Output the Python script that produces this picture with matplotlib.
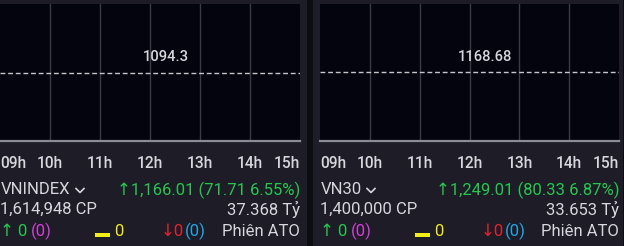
import matplotlib
matplotlib.use('Agg')
import matplotlib.pyplot as plt
from matplotlib.patches import Rectangle
from matplotlib.lines import Line2D

W, H = 624, 246

# data
hours = [9, 10, 11, 12, 13, 14, 15]
hour_labels = ['09h', '10h', '11h', '12h', '13h', '14h', '15h']
index_names = ['VNINDEX', 'VN30']
ref_values = [1094.3, 1168.68]
ref_labels = ['1094.3', '1168.68']
last_values = ['1,166.01', '1,249.01']
changes = ['71.71', '80.33']
pcts = ['6.55%', '6.87%']
volumes = ['1,614,948 CP', '1,400,000 CP']
turnover = ['37.368 Tỷ', '33.653 Tỷ']
up_count = [0, 0]
up_ceil = [0, 0]
flat_count = [0, 0]
down_count = [0, 0]
down_floor = [0, 0]

BG_GAP = '#0c0c13'
CARD = '#1d1c27'
PLOT_BG = '#04040e'
TXT = '#d6d6dc'
GREEN = '#25c84e'
MAGENTA = '#d23fd6'
YELLOW = '#f2ee0e'
RED = '#e3242c'
CYAN = '#23a6e4'

FONT = ['Roboto', 'DejaVu Sans']
ROW = 12.0

fig = plt.figure(figsize=(W / 100, H / 100), dpi=100, facecolor=BG_GAP)


def fx(x):
    return x / W


def fy(y):
    return 1 - y / H


def ftext(x, y, s, color=TXT, ha='left', size=ROW, weight='normal'):
    fig.text(fx(x), fy(y), s, color=color, ha=ha, va='center', fontsize=size,
             family=FONT, fontweight=weight)


# cards: (card left, card right, plot left, plot right)
panels = [(0, 307, 0, 300), (313, 623, 320, 619)]
chev = [80, 51]

for i, (cl, cr, pl, pr) in enumerate(panels):
    fig.add_artist(Rectangle((fx(cl), 0), fx(cr - cl), 1, transform=fig.transFigure,
                             facecolor=CARD, edgecolor='none', zorder=0))

    ax = fig.add_axes([fx(pl), fy(141), fx(pr - pl), (141 - 4) / H])
    ax.set_facecolor(PLOT_BG)
    ax.set_xlim(hours[0], hours[-1])
    ax.set_ylim(ref_values[i] - 10, ref_values[i] + 10)
    for h in hours[1:-1]:
        ax.axvline(h, color='#3b3b45', lw=1.0)
    ax.axhline(ref_values[i], color='#c4c4ca', lw=1.0, ls=(0, (3.5, 2)))
    ax.text(12.32, ref_values[i] + 1.2, ref_labels[i], color=TXT, ha='center',
            va='bottom', fontsize=10.6, family=FONT, fontweight='medium')
    for s in ['top', 'left', 'right']:
        ax.spines[s].set_visible(False)
    ax.spines['bottom'].set_color('#8c8c96')
    ax.spines['bottom'].set_linewidth(1.6)
    ax.set_yticks([])
    ax.set_xticks(hours)
    ax.set_xticklabels(hour_labels, color=TXT, fontsize=11.2, family=FONT,
                       fontweight='medium')
    ax.tick_params(axis='x', length=0, pad=11)
    labs = ax.get_xticklabels()
    labs[0].set_ha('left')
    labs[-1].set_ha('right')

    # row 1
    ftext(pl + 0.5, 190, index_names[i])
    cx = pl + chev[i]
    fig.add_artist(Line2D([fx(cx - 4), fx(cx), fx(cx + 4)], [fy(188.5), fy(192.5), fy(188.5)],
                          transform=fig.transFigure, color=TXT, lw=1.2))
    ftext(pr, 190, f'↑{last_values[i]} ({changes[i]} {pcts[i]})', color=GREEN, ha='right')

    # row 2
    ftext(pl + 0.5, 209.5, volumes[i])
    ftext(pr, 209.5, turnover[i], ha='right')

    # row 3
    ftext(pl + 0.5, 231, f'↑ {up_count[i]}', color=GREEN)
    ftext(pl + 31, 231, f'({up_ceil[i]})', color=MAGENTA)
    fig.add_artist(Rectangle((fx(pl + 95), fy(236.5)), fx(15), 3.5 / H,
                             transform=fig.transFigure, facecolor=YELLOW,
                             edgecolor='none'))
    ftext(pl + 114, 231, f'{flat_count[i]}', color=YELLOW)
    ftext(pl + 161, 231, f'↓{down_count[i]}', color=RED)
    ftext(pl + 185, 231, f'({down_floor[i]})', color=CYAN)
    ftext(pr, 231, 'Phiên ATO', ha='right')

fig.savefig('out.png', dpi=100, facecolor=BG_GAP)
